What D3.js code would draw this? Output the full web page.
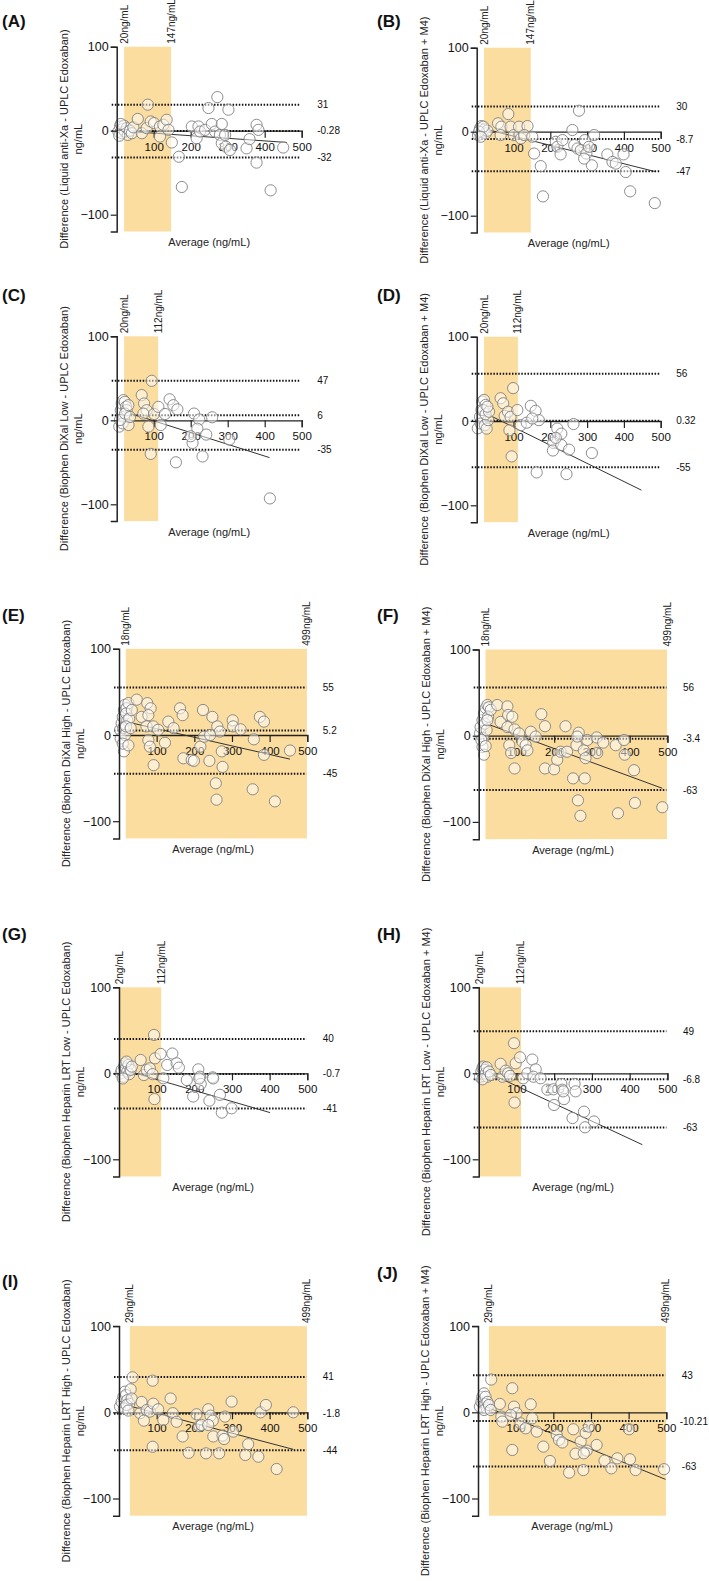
<!DOCTYPE html>
<html>
<head>
<meta charset="utf-8">
<script src="https://cdn.jsdelivr.net/npm/d3@7"></script>
<style>
  html, body { margin: 0; padding: 0; background: #fff; }
  svg { display: block; font-family: "Liberation Sans", Arial, sans-serif; }
</style>
</head>
<body>
<svg id="chart" width="709" height="1581"></svg>
<script>
// ---------------- DATA ----------------
const panelLetters = ["(A)", "(B)", "(C)", "(D)", "(E)", "(F)", "(G)", "(H)", "(I)", "(J)"];

const yTitles = [
  "Difference (Liquid anti-Xa - UPLC Edoxaban)",
  "Difference (Liquid anti-Xa - UPLC Edoxaban + M4)",
  "Difference (Biophen DiXal Low - UPLC Edoxaban)",
  "Difference (Biophen DiXal Low - UPLC Edoxaban + M4)",
  "Difference (Biophen DiXal High - UPLC Edoxaban)",
  "Difference (Biophen DiXal High - UPLC Edoxaban + M4)",
  "Difference (Biophen Heparin LRT Low - UPLC Edoxaban)",
  "Difference (Biophen Heparin LRT Low - UPLC Edoxaban + M4)",
  "Difference (Biophen Heparin LRT High - UPLC Edoxaban)",
  "Difference (Biophen Heparin LRT High - UPLC Edoxaban + M4)"
];
const yUnit = "ng/mL";
const xTitle = "Average (ng/mL)";
const xTicks = [100, 200, 300, 400, 500];
const yTicks = [-100, 0, 100];

// measuring range (shaded) per panel
const shadeRanges = [[20,147],[20,147],[20,112],[20,112],[18,499],[18,499],[2,112],[2,112],[29,499],[29,499]];
const shadeLabels = [
  ["20ng/mL","147ng/mL"],["20ng/mL","147ng/mL"],["20ng/mL","112ng/mL"],["20ng/mL","112ng/mL"],
  ["18ng/mL","499ng/mL"],["18ng/mL","499ng/mL"],["2ng/mL","112ng/mL"],["2ng/mL","112ng/mL"],
  ["29ng/mL","499ng/mL"],["29ng/mL","499ng/mL"]
];

// upper limit, bias, lower limit
const limitValues = [
  [31,-0.28,-32],[30,-8.7,-47],[47,6,-35],[56,0.32,-55],[55,5.2,-45],
  [56,-3.4,-63],[40,-0.7,-41],[49,-6.8,-63],[41,-1.8,-44],[43,-10.21,-63]
];
const limitLabels = [
  ["31","-0.28","-32"],["30","-8.7","-47"],["47","6","-35"],["56","0.32","-55"],["55","5.2","-45"],
  ["56","-3.4","-63"],["40","-0.7","-41"],["49","-6.8","-63"],["41","-1.8","-44"],["43","-10.21","-63"]
];

// regression line end points [average, difference]
const fitLines = [
  [[22,-0.5],[460,-14]],
  [[20,3.5],[486,-47.6]],
  [[36,8.3],[413,-44.4]],
  [[24.5,9],[447.5,-82]],
  [[38,13.5],[454,-28]],
  [[18.5,14.3],[486.5,-61]],
  [[29,2],[401,-45.7]],
  [[18.5,2],[433.6,-83]],
  [[33.6,6.6],[462.8,-43]],
  [[20,6.6],[498,-77.8]]
];

// points [average, difference]
const pointsA = [[4.5,-1],[9,5],[13.5,-3],[16,2],[20,6],[22,-1],[27,3],[30,-5],[7,-6],[36,0],[11,8],[41,-3],[45,4],
  [57,14],[68,-3],[81,3],[84,31],[92,11],[101,9],[117,5],[117,-7],[126,7],[135,13],[140,1],[149,-14],[168,-31],[176,-67],
  [203,5],[216,-9],[221,5],[225,-1],[239,1],[248,27],[257,8],[266,-1],[272,40],[279,-5],[284,8],[284,-15],[293,-5],[295,-19],
  [302,25],[306,-23],[351,-21],[359,-10],[378,7],[383,1],[378,-38],[416,-71],[450,-20]];
const pointsB = [[3.6,-4],[9,4],[12.7,6.7],[15.4,0],[20,2.8],[24.5,-2],[29,1.2],[6.3,0],[18,6],[11,-6],
  [58,10],[67,6],[65,-4],[86,21],[92,6],[101,-4],[115,6],[120,-8],[138,6.7],[129,-4],[151,-6],[156,-26],[174,-41],[180,-77],
  [215,-12],[219,-18],[228,-27],[233,-10],[260,2],[265,-16],[278,25],[274,-20],[283,-22],[294,-10],[298,-26],[305,-18],[313,-40],
  [319,-4],[292,-32],[355,-27],[369,-36],[378,-38],[399,-27],[405,-48],[417,-71],[484,-85]];
const pointsC = [[7,-7.5],[11,12],[13.5,20],[18,24],[22,22],[25,16],[20,4],[16,-3.6],[27,12],[32,-5.6],[9,0.4],[22.5,8],[31.5,18],[36,4],
  [67.6,30],[74,20],[81,12],[94.6,47],[85.6,-7.5],[92,-40],[72,8],[101,7.5],[112.6,16],[119,-5.6],[130.6,7.5],[143,25],[153,18],
  [164,13],[160,-50],[209,8],[223,1],[218,-10],[205,-27],[232,-43],[242,-17],[258,3.6],[304.5,-23],[414,-93],[200,-19]];
const pointsD = [[3,-8.7],[9,5],[13,13],[15,23],[20,25],[24,19],[18,13],[11,-3],[22,-5],[27,-9],[31,1],[24,8],[33.5,11],[29,17],
  [65,27],[72,21],[76,6],[85,11],[92,5],[99,39],[95,-42],[89,-11],[110.5,13],[119.6,-5],[136,-2],[147,18],[160,12],[169,1],
  [151,3],[163,-61],[219,-9],[230,-15],[208,-26],[207,-35],[230,-28.5],[244,-63],[251,-34],[263,-3.6],[313,-38],[215,-20]];
const pointsE = [[3,6],[7,13.5],[10,21],[13,29],[16,35],[20,31],[25,37],[19,25],[22,17],[11.5,8],[4.4,-4],[13,-19],[16,0],[27,19],
  [34,29],[10,-10],[25,-12],[18.6,10],[31,8],
  [47,41],[60,21],[75,37],[84,31],[78,23],[73,10],[78,-6],[82,-13.5],[91,10],[92,-35],[104,6],[122,-9],[131,15.5],[145,8],
  [162,31],[169,23],[171,-27],[193,-29],[199,-30],[216,-13.5],[223,29],[226,-2],[240,-30],[248,21],[257,-56],[259,-75],
  [261,10],[268,4],[273,-19],[275,-37],[302,17],[303,10],[323,6.6],[358,-5],[355,-63],[374,21],[385,15.5],[385,-23],
  [414,-77],[454,-18],[242,0]];
const pointsF = [[3.5,2.7],[5,10],[10,18],[14,26],[18.5,32],[23,35.6],[27,33],[16,14],[12,-3],[10,-13],[14,-22],[21,6.6],[25,22],
  [7,-5],[18.5,-12],[32,30],[23,18],
  [49,35.6],[58,16],[76,34],[78,24],[89,22],[76,10],[81,-11],[86,-20],[95,7.3],[95,-38],[107,2.7],[116,-7],[124.5,-11],
  [129,-17],[138,4.6],[151,-1],[166,25],[175.7,11],[175.7,-38],[199.6,-39],[208,-28],[217,-18.6],[230,11],[234,-18.6],
  [250,-49.5],[265,3.5],[259,-11],[263,-75],[269.6,-93],[278.5,-17],[281,-49.5],[287.8,-5],[283,-26],[312.6,-2],[314,-20],
  [330,-8],[363,-11],[369,-90],[385,-5],[387,-22],[411.6,-40],[414,-78],[486.5,-83],[261,-1]];
const pointsG = [[4.4,0],[7,4],[11.5,-4],[13,8],[16,11.6],[18.6,5.8],[22,2],[25,9.7],[27,-1],[31,4],[10,-6],[20,13.6],[34,7.8],
  [57.5,15.5],[66,-2],[73.5,3.9],[82,5.8],[89.4,-1],[93,44.6],[95.6,17.4],[94,-30],[110.6,22.5],[117.7,-5.8],[128,9.7],
  [141.6,23],[153,11.6],[159,6.6],[180,-7.8],[210.6,4.6],[215,-3.9],[217,-12.4],[197,-27],[213,-6],[248.7,-4.7],[240,-31.8],
  [268,-25],[273,-45.7],[299,-40.7],[250,-6]];
const pointsH = [[3.5,-4],[7,2],[10,5.8],[12,7.8],[16,3.9],[18.5,0],[21,7],[23,-4],[10,-7],[27,2],[32,-2],
  [58,11],[63,-4],[71.5,3],[78,0],[83,-3],[93.6,35],[98,11.6],[95,-34],[109.5,18.6],[118,-5.8],[129,0],[142,16],[151,4.6],
  [145,-4],[164,-5.8],[182,-19],[198,-18.6],[199.6,-36.8],[219,-12.4],[221.6,-19],[226,-30],[224,-21],[254,-12.4],[256.7,-21],
  [248.6,-52],[279,-44.6],[281.7,-62.8],[305.5,-56]];
const pointsI = [[2.7,6.6],[7,12],[11.5,18],[16,24],[18.6,20],[22,14],[27,10],[13,4.6],[20,8.5],[31,26.7],[36,40.6],[33.6,16],[25,2],
  [56,-1],[60,12],[66,-9.7],[73.5,2.7],[82,0.8],[89.4,36.7],[91,10],[89.4,-40],[104,3.5],[117.7,-9],[137,16],[143,-1],
  [153,-11],[169,-28],[185,-47],[206,-2.3],[213,-16],[219,-14.7],[231,-47.6],[237,3.5],[243,-3.9],[249,-9.7],[250.4,-28],
  [266,-47.6],[275,-27],[279,-31],[281.4,-5],[299,12.4],[303.5,-22.4],[335.4,-49.5],[343,-37],[370,-51.5],[376,0],[390,8.5],
  [418.6,-65.8],[462.8,0],[237,-14.7]];
const pointsJ = [[5,6.6],[9,12],[11.5,18],[16,22],[20,18],[19.5,9.7],[23,4.6],[16,2.7],[25,12],[29,8.5],[33.6,2.7],
  [35,38],[58,9.7],[62,-5],[64.6,-10.8],[91,27.9],[95.6,6.6],[91,-43.7],[102.6,-1],[86.7,-3],[113,-12.8],[126.5,-18.6],
  [140,9.3],[144,-7],[156,-22.4],[173.5,-39.8],[191,-56.5],[209,-26.3],[215,-32],[224,-35],[242,-70],[253,-19.7],[259,-48],
  [272.6,-34],[279.6,-67],[285.8,-24],[288.5,-44.5],[294.7,-16.6],[315,-37.9],[336,-56],[354,-65],[370,-53.4],[401,-19.7],
  [403.5,-54.5],[418.6,-67],[494,-66],[281,-47.6]];
const allPoints = [pointsA, pointsB, pointsC, pointsD, pointsE, pointsF, pointsG, pointsH, pointsI, pointsJ];

// ---------------- LAYOUT (pixel geometry per panel) ----------------
const layout = [
  {x0:116.7, w:185,   y0:130.7,  k:84,   lab:[2,27]},
  {x0:476.7, w:184,   y0:131.7,  k:84,   lab:[377,27]},
  {x0:116.7, w:185,   y0:420.3,  k:84,   lab:[2,301]},
  {x0:476.7, w:184,   y0:421,    k:84.3, lab:[377,301]},
  {x0:119,   w:188.3, y0:735,    k:86.2, lab:[2,621]},
  {x0:478.7, w:188.7, y0:735.7,  k:86.2, lab:[377,621]},
  {x0:119,   w:188.3, y0:1073.3, k:86,   lab:[2,940]},
  {x0:478.7, w:188.7, y0:1073.3, k:86,   lab:[377,940]},
  {x0:119,   w:188.3, y0:1412.3, k:86.2, lab:[2,1287]},
  {x0:478,   w:188.3, y0:1412.3, k:86.2, lab:[377,1279]}
];

const SHADE = "#FCDDA0";
const W = 709;
const svg = d3.select("#chart");

layout.forEach((L, i) => {
  const x = d3.scaleLinear().domain([0, 500]).range([L.x0, L.x0 + L.w]);
  const y = d3.scaleLinear().domain([-120, 100]).range([L.y0 + 1.2 * L.k, L.y0 - L.k]);
  const g = svg.append("g");

  // panel letter
  g.append("text").attr("x", L.lab[0]).attr("y", L.lab[1])
    .attr("font-size", 17).attr("font-weight", "bold").attr("fill", "#111")
    .text(panelLetters[i]);

  // shaded measuring range
  const sr = shadeRanges[i];
  g.append("rect")
    .attr("x", x(sr[0])).attr("y", y(100))
    .attr("width", x(sr[1]) - x(sr[0])).attr("height", y(-120) - y(100))
    .attr("fill", SHADE);

  // rotated range labels
  sr.forEach((v, j) => {
    g.append("text")
      .attr("transform", `translate(${x(v)},${y(100) - 3}) rotate(-90)`)
      .attr("dy", "0.35em").attr("font-size", 10).attr("fill", "#222")
      .text(shadeLabels[i][j]);
  });

  // x axis at y=0
  const xAxis = d3.axisBottom(x).tickValues(xTicks).tickSizeOuter(0).tickSize(7).tickPadding(5);
  const gx = g.append("g").attr("transform", `translate(0,${y(0)})`).call(xAxis);
  gx.select(".domain").attr("stroke", "#222").attr("stroke-width", 1.3);
  gx.selectAll(".tick line").attr("stroke", "#222").attr("stroke-width", 1.2);
  gx.selectAll(".tick text").attr("font-size", 11.5).attr("fill", "#111")
    .attr("font-family", "Liberation Sans, Arial, sans-serif");

  // limit lines (dotted)
  limitValues[i].forEach((v, j) => {
    g.append("line")
      .attr("x1", x(0) - 5).attr("x2", x(500) - 1)
      .attr("y1", y(v)).attr("y2", y(v))
      .attr("stroke", "#111").attr("stroke-width", 2)
      .attr("stroke-dasharray", "1.5,1.6");
    const t = g.append("text")
      .attr("x", x(500) + 15.5).attr("y", y(v)).attr("dy", "0.35em")
      .attr("font-size", 10).attr("fill", "#111")
      .text(limitLabels[i][j]);
    const len = t.node().getComputedTextLength();
    if (x(500) + 15.5 + len > W - 1) t.attr("x", W - 1 - len);
  });

  // regression line
  const fl = fitLines[i];
  g.append("line")
    .attr("x1", x(fl[0][0])).attr("y1", y(fl[0][1]))
    .attr("x2", x(fl[1][0])).attr("y2", y(fl[1][1]))
    .attr("stroke", "#333").attr("stroke-width", 1);

  // points
  g.append("g").selectAll("circle").data(allPoints[i]).join("circle")
    .attr("cx", d => x(d[0])).attr("cy", d => y(d[1])).attr("r", 5.6)
    .attr("fill", "#fff").attr("fill-opacity", 0.5)
    .attr("stroke", "#808080").attr("stroke-width", 0.9);

  // y axis
  const yAxis = d3.axisLeft(y).tickValues(yTicks).tickSizeOuter(0).tickSize(6).tickPadding(2);
  const gy = g.append("g").attr("transform", `translate(${x(0)},0)`).call(yAxis);
  gy.select(".domain").attr("stroke", "#222").attr("stroke-width", 1.5);
  gy.selectAll(".tick line").attr("stroke", "#222").attr("stroke-width", 1.2);
  gy.selectAll(".tick text").attr("font-size", 12.5).attr("fill", "#111")
    .attr("font-family", "Liberation Sans, Arial, sans-serif");

  // y title (two lines)
  const cy = (y(100) + y(-120)) / 2;
  g.append("text")
    .attr("transform", `translate(${x(0) - 53},${cy}) rotate(-90)`)
    .attr("text-anchor", "middle").attr("dy", "0.35em")
    .attr("font-size", 11).attr("fill", "#222").text(yTitles[i]);
  g.append("text")
    .attr("transform", `translate(${x(0) - 39},${cy}) rotate(-90)`)
    .attr("text-anchor", "middle").attr("dy", "0.35em")
    .attr("font-size", 11).attr("fill", "#222").text(yUnit);

  // x title
  g.append("text")
    .attr("x", (x(0) + x(500)) / 2).attr("y", y(-120) + 14.5)
    .attr("text-anchor", "middle").attr("font-size", 11).attr("fill", "#222")
    .text(xTitle);
});
</script>
</body>
</html>
